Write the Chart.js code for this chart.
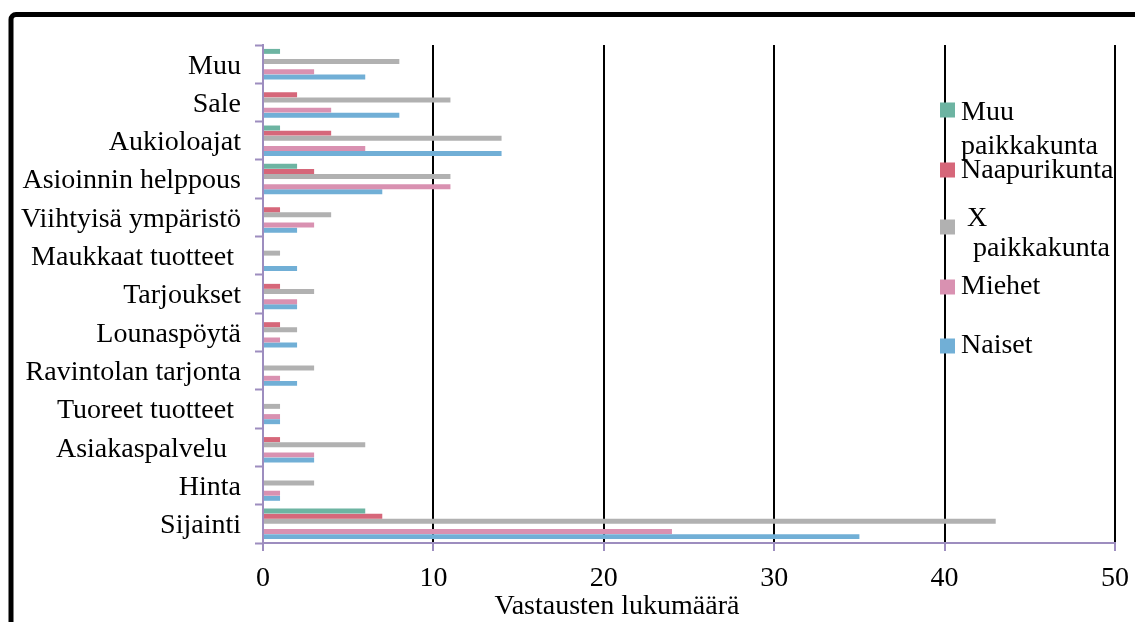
<!DOCTYPE html>
<html>
<head>
<meta charset="utf-8">
<script src="https://cdn.jsdelivr.net/npm/chart.js@4.4.1/dist/chart.umd.min.js"></script>
<style>
html,body{margin:0;padding:0;background:#fff;}
#wrap{width:1135px;height:622px;position:relative;}
</style>
</head>
<body>
<div id="wrap"><canvas id="c" width="1135" height="622"></canvas></div>
<script>
const categories = ["Muu","Sale","Aukioloajat","Asioinnin helppous","Viihtyisä ympäristö","Maukkaat tuotteet ","Tarjoukset","Lounaspöytä","Ravintolan tarjonta","Tuoreet tuotteet ","Asiakaspalvelu  ","Hinta","Sijainti"];
const muuPaikkakunta = [1,0,1,2,0,0,0,0,0,0,0,0,6];
const naapurikunta   = [0,2,4,3,1,0,1,1,0,0,1,0,7];
const xPaikkakunta   = [8,11,14,11,4,1,3,2,3,1,6,3,43];
const miehet         = [3,4,6,11,3,0,2,1,1,1,3,1,24];
const naiset         = [6,8,14,7,2,2,2,2,2,1,3,1,35];
const xTicks = [0,10,20,30,40,50];
const axisTitle = "Vastausten lukumäärä";

const PURPLE = '#9d8dbf';
const FONT = '"Liberation Serif", "Times New Roman", serif';

const series = [
  {label:"Muu paikkakunta", data:muuPaikkakunta, color:'#6db4a2'},
  {label:"Naapurikunta", data:naapurikunta, color:'#d6677a'},
  {label:"X paikkakunta", data:xPaikkakunta, color:'#b1b1b1'},
  {label:"", data:categories.map(()=>null), color:'rgba(0,0,0,0)', spacer:true},
  {label:"Miehet", data:miehet, color:'#d991b1'},
  {label:"Naiset", data:naiset, color:'#71afd6'}
];

// legend layout (style only)
const legendLayout = {
  "Muu paikkakunta": {my:110, lines:[[961,113],[961,147]]},
  "Naapurikunta": {my:170, lines:[[961,171]]},
  "X paikkakunta": {my:227, lines:[[967,219],[973,249]]},
  "Miehet": {my:287, lines:[[961,287]]},
  "Naiset": {my:346, lines:[[961,346]]}
};

const framePlugin = {
  id:'frame',
  beforeDraw(chart){
    const c = chart.ctx;
    c.save();
    c.fillStyle='#fff';
    c.fillRect(0,0,chart.width,chart.height);
    c.restore();
  },
  afterDraw(chart){
    const c = chart.ctx;
    c.save();
    // frame
    c.strokeStyle='#000';
    c.lineWidth=5;
    c.beginPath();
    if (c.roundRect) c.roundRect(11,14.5,1200,700,5); else c.rect(11,14.5,1200,700);
    c.stroke();
    // axis title
    c.fillStyle='#000';
    c.font='28px '+FONT;
    c.textAlign='center';
    c.textBaseline='middle';
    c.fillText(axisTitle, 617, 607);
    // legend
    c.textAlign='left';
    chart.data.datasets.forEach(ds=>{
      const L = legendLayout[ds.label];
      if(!L) return;
      c.fillStyle = ds.backgroundColor;
      c.fillRect(940, L.my-7.5, 15, 15);
      c.fillStyle='#000';
      const words = L.lines.length>1 ? ds.label.split(' ') : [ds.label];
      words.forEach((w,i)=>{ c.fillText(w, L.lines[i][0], L.lines[i][1]); });
    });
    c.restore();
  }
};

new Chart(document.getElementById('c'), {
  type:'bar',
  data:{
    labels:categories,
    datasets:series.map(s=>({
      label:s.label, data:s.data, backgroundColor:s.color, borderWidth:0,
      categoryPercentage:0.8, barPercentage:0.97
    }))
  },
  options:{
    indexAxis:'y',
    responsive:false,
    animation:false,
    devicePixelRatio:1,
    layout:{padding:{top:45,right:20,left:0,bottom:0}},
    plugins:{legend:{display:false}, tooltip:{enabled:false}},
    scales:{
      x:{
        min:0,max:50,
        afterBuildTicks(scale){ scale.ticks = xTicks.map(v=>({value:v})); },
        afterFit(scale){ scale.height = 79; scale.paddingLeft = 0; scale.paddingRight = 0; },
        grid:{
          color:(ctx)=> (ctx.tick && ctx.tick.value===0) ? 'rgba(0,0,0,0)' : '#000',
          lineWidth:2,
          drawTicks:true, tickLength:8, tickColor:PURPLE, tickWidth:2
        },
        border:{display:true,color:PURPLE,width:2},
        ticks:{color:'#000', font:{family:FONT,size:28}, padding:11, maxRotation:0}
      },
      y:{
        afterFit(scale){ scale.width = 263; scale.paddingTop = 0; scale.paddingBottom = 0; },
        grid:{display:true, drawOnChartArea:false, drawTicks:true, tickLength:8, tickColor:PURPLE, tickWidth:2, offset:true},
        border:{display:true,color:PURPLE,width:2},
        ticks:{color:'#000', font:{family:FONT,size:28}, padding:14, autoSkip:false, labelOffset:2}
      }
    }
  },
  plugins:[framePlugin]
});
</script>
</body>
</html>
